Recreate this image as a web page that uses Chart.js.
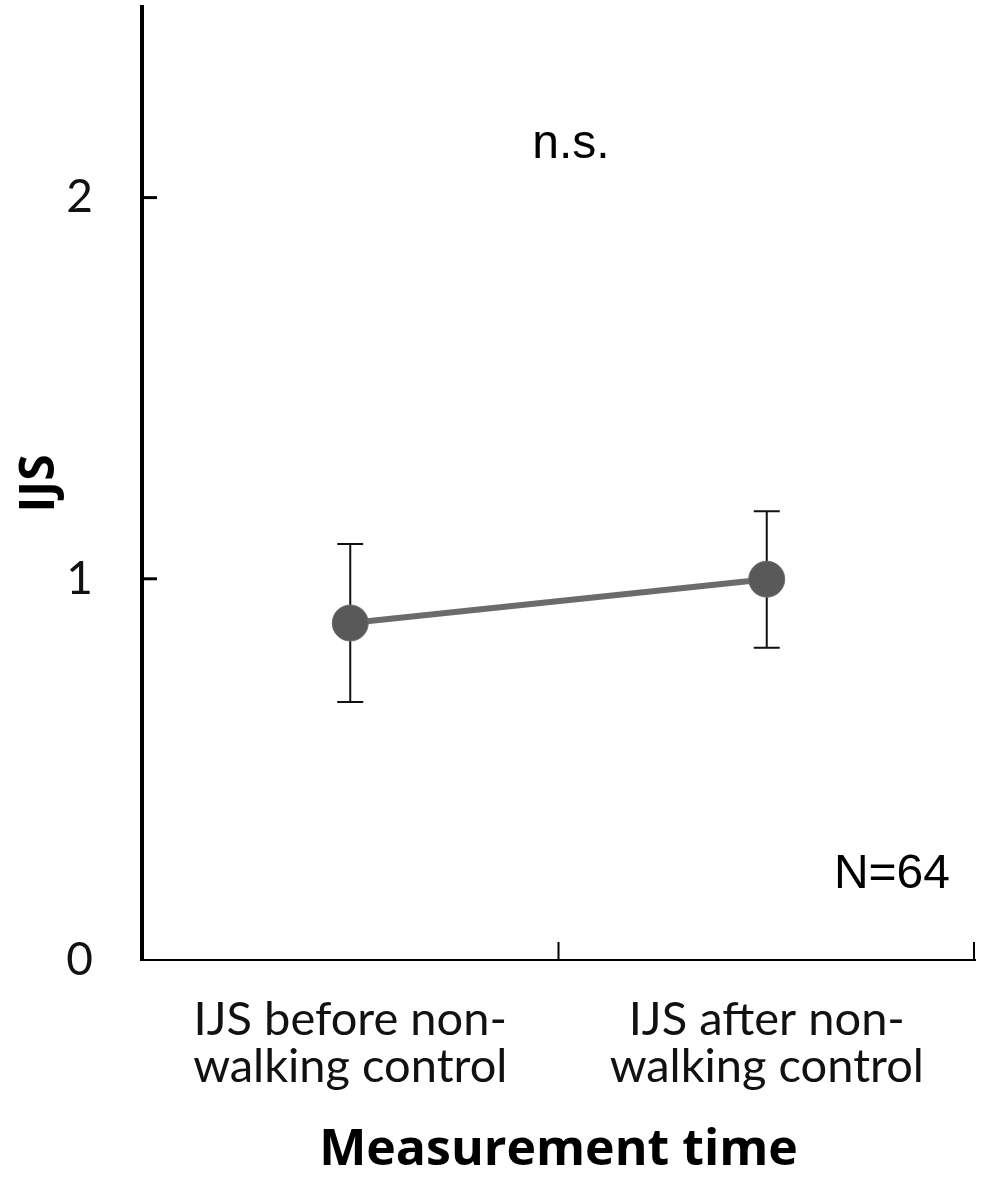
<!DOCTYPE html>
<html>
<head>
<meta charset="utf-8">
<script src="https://cdn.jsdelivr.net/npm/chart.js@4.4.1/dist/chart.umd.min.js"></script>
<style>
  html, body { margin: 0; padding: 0; background: #fff; }
  #wrap { width: 982px; height: 1181px; }
</style>
</head>
<body>
<div id="wrap"><canvas id="myChart" width="982" height="1181"></canvas></div>
<script>
// Dados do grafico
const categories = [["IJS before non-", "walking control"], ["IJS after non-", "walking control"]];
const means = [0.884, 0.999];
const lowerBars = [0.677, 0.819];
const upperBars = [1.091, 1.177];
const yTicks = [0, 1, 2];

// Textos soltos (valores em unidades dos eixos)
const notes = [
  { text: "n.s.", x: 0.53, y: 2.105, align: "center" },
  { text: "N=64", x: 1.44, y: 0.19, align: "right" },
];

const ctx = document.getElementById("myChart").getContext("2d");

// Barras de erro + marcas internas dos eixos
const extras = {
  id: "extras",
  beforeDatasetsDraw(chart) {
    const c = chart.ctx;
    const xs = chart.scales.x;
    const ys = chart.scales.y;
    c.save();
    c.strokeStyle = "#111";
    c.lineWidth = 2;
    means.forEach((m, i) => {
      const x = xs.getPixelForValue(i);
      const yl = ys.getPixelForValue(lowerBars[i]);
      const yu = ys.getPixelForValue(upperBars[i]);
      c.beginPath();
      c.moveTo(x, yl); c.lineTo(x, yu);
      c.moveTo(x - 13, yl); c.lineTo(x + 13, yl);
      c.moveTo(x - 13, yu); c.lineTo(x + 13, yu);
      c.stroke();
    });
    c.restore();
  },
  afterDraw(chart) {
    const c = chart.ctx;
    const xs = chart.scales.x;
    const ys = chart.scales.y;
    const area = chart.chartArea;
    c.save();
    c.strokeStyle = "#000";
    c.lineWidth = 3;
    yTicks.forEach((v) => {
      if (v === 0) return;
      const y = ys.getPixelForValue(v);
      c.beginPath();
      c.moveTo(area.left, y);
      c.lineTo(area.left + 15, y);
      c.stroke();
    });
    c.lineWidth = 2;
    // marcas entre categorias e no fim
    [0.5, 1.5].forEach((v) => {
      const x = Math.min(xs.getPixelForValue(v), area.right - 1);
      c.beginPath();
      c.moveTo(x, area.bottom);
      c.lineTo(x, area.bottom - 18);
      c.stroke();
    });
    c.fillStyle = "#000";
    c.font = "48px 'Liberation Sans', Arial, sans-serif";
    c.textBaseline = "alphabetic";
    notes.forEach((n) => {
      c.textAlign = n.align;
      c.fillText(n.text, xs.getPixelForValue(n.x), ys.getPixelForValue(n.y));
    });
    c.restore();
  },
};

const myChart = new Chart(ctx, {
  type: "line",
  data: {
    labels: categories,
    datasets: [
      {
        label: "IJS",
        data: means,
        borderColor: "#6b6b6b",
        borderWidth: 6,
        pointRadius: 18,
        pointBackgroundColor: "#595959",
        pointBorderColor: "#6e6e6e",
        pointBorderWidth: 1,
        tension: 0,
      },
    ],
  },
  options: {
    responsive: false,
    devicePixelRatio: 1,
    animation: false,
    events: [],
    layout: { autoPadding: false, padding: { top: 7, right: 7, left: 0, bottom: 0 } },
    plugins: {
      legend: { display: false },
      tooltip: { enabled: false },
    },
    scales: {
      x: {
        type: "category",
        offset: true,
        grid: { display: false, drawTicks: false },
        border: { display: true, color: "#000", width: 2 },
        ticks: {
          color: "#111",
          padding: 36,
          maxRotation: 0,
          autoSkip: false,
          font: { family: "Lato, 'Open Sans', sans-serif", size: 47, lineHeight: 1.0 },
        },
        title: {
          display: true,
          text: "Measurement time",
          color: "#000",
          padding: { top: 0, bottom: 0 },
          font: { family: "'Open Sans', Lato, sans-serif", size: 50, weight: "bold" },
        },
        afterFit(scale) {
          scale.height = 221;
          scale.paddingLeft = 0;
          scale.paddingRight = 0;
        },
      },
      y: {
        min: 0,
        max: 2.5,
        grid: { display: false, drawTicks: false },
        border: { display: true, color: "#000", width: 4 },
        afterBuildTicks(scale) {
          scale.ticks = yTicks.map((v) => ({ value: v }));
        },
        ticks: {
          color: "#111",
          padding: 49,
          font: { family: "Lato, 'Open Sans', sans-serif", size: 46 },
        },
        title: {
          display: true,
          text: "IJS",
          color: "#000",
          padding: { top: 12, bottom: 0 },
          font: { family: "'Open Sans', Lato, sans-serif", size: 48, weight: "bold" },
        },
        afterFit(scale) {
          scale.width = 142;
          scale.paddingTop = 0;
          scale.paddingBottom = 0;
        },
      },
    },
  },
  plugins: [extras],
});
</script>
</body>
</html>
